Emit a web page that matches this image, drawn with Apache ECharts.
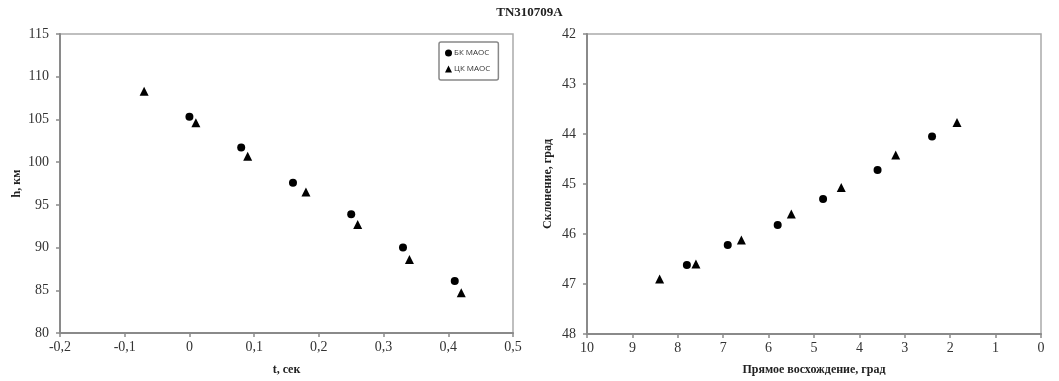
<!DOCTYPE html>
<html>
<head>
<meta charset="utf-8">
<script src="https://cdn.jsdelivr.net/npm/echarts@6/dist/echarts.min.js"></script>
<style>
html,body{margin:0;padding:0;background:#fff;}
#chart{width:1059px;height:381px;}
</style>
</head>
<body>
<div id="chart"></div>
<script>
// h(t) panel
var bkT = [0, 0.08, 0.16, 0.25, 0.33, 0.41];
var bkH = [105.3, 101.7, 97.6, 93.9, 90.0, 86.1];
var ckT = [-0.07, 0.01, 0.09, 0.18, 0.26, 0.34, 0.42];
var ckH = [108.3, 104.6, 100.7, 96.5, 92.7, 88.6, 84.7];

// RA / Dec panel
var bkRA = [2.4, 3.6, 4.8, 5.8, 6.9, 7.8];
var bkDec = [44.05, 44.72, 45.3, 45.82, 46.22, 46.62];
var ckRA = [1.85, 3.2, 4.4, 5.5, 6.6, 7.6, 8.4];
var ckDec = [43.77, 44.42, 45.07, 45.6, 46.12, 46.6, 46.9];

var seriesNames = ['БК МАОС', 'ЦК МАОС'];

function pairs(xs, ys) {
    var list = [];
    for (var i = 0; i < xs.length; i++) {
        list.push([xs[i], ys[i]]);
    }
    return list;
}

var serif = '"Liberation Serif", "DejaVu Serif", serif';
var axisLine = {show: true, onZero: false, lineStyle: {color: '#8a8a8a', width: 2}};
var axisTick = {show: true, inside: false, length: 4, lineStyle: {color: '#8a8a8a', width: 1.5}};
var xLabel = {color: '#333', fontFamily: serif, fontSize: 14, margin: 7};
var yLabel = {color: '#333', fontFamily: serif, fontSize: 14, margin: 11};
var nameStyle = {color: '#222', fontFamily: serif, fontSize: 12, fontWeight: 'bold'};
var markStyle = {color: '#000', opacity: 1};

var chart = echarts.init(document.getElementById('chart'));
chart.setOption({
    animation: false,
    title: {
        text: 'TN310709A',
        left: 'center',
        top: 1,
        textStyle: {fontFamily: serif, fontSize: 13, fontWeight: 'bold', color: '#222'}
    },
    legend: {
        orient: 'vertical',
        left: 439,
        top: 42,
        width: 69,
        padding: [7, 8, 7, 6],
        itemGap: 8,
        itemWidth: 7,
        itemHeight: 7,
        borderColor: '#888',
        borderWidth: 1.5,
        borderRadius: 2,
        data: seriesNames,
        textStyle: {fontSize: 8, color: '#333', fontFamily: '"Open Sans", sans-serif', padding: [0, 0, 0, -3]}
    },
    grid: [
        {left: 60, right: 546, top: 34, bottom: 44, show: true, borderColor: '#aaa', borderWidth: 1.5},
        {left: 587, right: 18, top: 34, bottom: 46, show: true, borderColor: '#aaa', borderWidth: 1.5}
    ],
    xAxis: [
        {
            gridIndex: 0, type: 'value', min: -0.2, max: 0.5, interval: 0.1,
            name: 't, сек', nameLocation: 'middle', nameGap: 31, nameTextStyle: nameStyle,
            splitLine: {show: false}, axisLine: axisLine, axisTick: axisTick,
            axisLabel: {color: '#333', fontFamily: serif, fontSize: 14, margin: 7, formatter: function (v) {
                return (Math.round(v * 10) / 10).toString().replace('.', ',');
            }}
        },
        {
            gridIndex: 1, type: 'value', min: 0, max: 10, interval: 1, inverse: true,
            name: 'Прямое восхождение, град', nameLocation: 'middle', nameGap: 30, nameTextStyle: nameStyle,
            splitLine: {show: false}, axisLine: axisLine, axisTick: axisTick, axisLabel: xLabel
        }
    ],
    yAxis: [
        {
            gridIndex: 0, type: 'value', min: 80, max: 115, interval: 5,
            name: 'h, км', nameLocation: 'middle', nameGap: 37, nameTextStyle: nameStyle,
            splitLine: {show: false}, axisLine: axisLine, axisTick: axisTick, axisLabel: yLabel
        },
        {
            gridIndex: 1, type: 'value', min: 42, max: 48, interval: 1, inverse: true,
            name: 'Склонение, град', nameLocation: 'middle', nameGap: 33, nameTextStyle: nameStyle,
            splitLine: {show: false}, axisLine: axisLine, axisTick: axisTick, axisLabel: yLabel
        }
    ],
    series: [
        {name: seriesNames[0], type: 'scatter', xAxisIndex: 0, yAxisIndex: 0, symbol: 'circle', symbolSize: 8,
            itemStyle: markStyle, data: pairs(bkT, bkH)},
        {name: seriesNames[1], type: 'scatter', xAxisIndex: 0, yAxisIndex: 0, symbol: 'triangle', symbolSize: 9,
            itemStyle: markStyle, data: pairs(ckT, ckH)},
        {name: seriesNames[0], type: 'scatter', xAxisIndex: 1, yAxisIndex: 1, symbol: 'circle', symbolSize: 8,
            itemStyle: markStyle, data: pairs(bkRA, bkDec)},
        {name: seriesNames[1], type: 'scatter', xAxisIndex: 1, yAxisIndex: 1, symbol: 'triangle', symbolSize: 9,
            itemStyle: markStyle, data: pairs(ckRA, ckDec)}
    ]
});
</script>
</body>
</html>
